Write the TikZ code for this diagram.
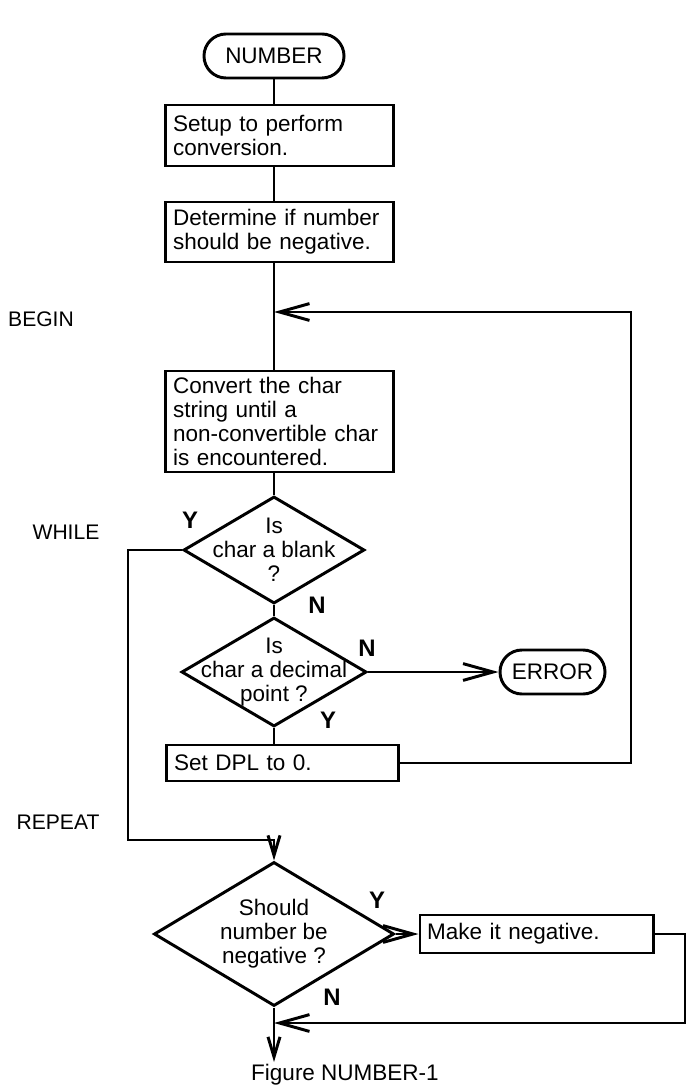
\documentclass[tikz,border=0pt]{standalone}
\usepackage{fontspec}
\setsansfont{Liberation Sans}
\usetikzlibrary{arrows.meta,shapes.geometric,shapes.misc}

\begin{document}
\begin{tikzpicture}[x=0.025cm,y=-0.025cm,line width=2.1pt,font=\sffamily\fontsize{16pt}{17pt}\selectfont,
term/.style={rounded rectangle,draw,minimum width=#1,minimum height=1.1cm,inner sep=0pt},
proc/.style={draw,align=left,text width=#1,inner xsep=0.18cm,inner ysep=0pt},proc/.default=5.315cm,
decision/.style={diamond,draw,align=center,inner sep=-2cm},
flow/.style={-{Straight Barb[length=0.75cm,width=0.42cm]}},
vflow/.style={-{Straight Barb[length=0.5cm,width=0.3cm]}},
yn/.style={font=\sffamily\bfseries\fontsize{17pt}{17pt}\selectfont},
lbl/.style={font=\sffamily\fontsize{15pt}{15pt}\selectfont}]
\useasboundingbox (0,0) rectangle (687,1089);
\node[term=3.5cm] (num) at (274,56) {NUMBER};
\node[proc,minimum height=1.525cm] (setup) at (279.5,135.5) {Setup to perform\\conversion.};
\node[proc,minimum height=1.5cm] (sign) at (279.5,232) {Determine if number\\should be negative.};
\node[proc,minimum height=2.525cm] (conv) at (279.5,421.5) {Convert the char\\string until a\\non-convertible char\\is encountered.};
\node[decision,minimum width=4.525cm,minimum height=2.675cm] (blank) at (274,550) {Is\\char a blank\\?};
\node[decision,minimum width=4.625cm,minimum height=2.725cm] (point) at (274,672) {Is\\char a decimal\\point ?};
\node[term=2.625cm] (err) at (552.5,672) {ERROR};
\node[proc=5.415cm,minimum height=0.9cm] (dpl) at (282.5,763) {Set DPL to 0.};
\node[decision,minimum width=6cm,minimum height=3.6cm] (neg) at (274,934) {Should\\number be\\negative ?};
\node[proc=5.465cm,minimum height=0.95cm] (mkneg) at (536.5,934) {Make it negative.};
% loop labels
\node[lbl] (lbegin) at (41,319) {BEGIN};
\node[lbl] (lwhile) at (66,532) {WHILE};
\node[lbl] (lrepeat) at (58,822) {REPEAT};
\node[yn] (y1) at (190,520) {Y};
\node[yn] (n1) at (317,605) {N};
\node[yn] (n2) at (367,648) {N};
\node[yn] (y2) at (328,720) {Y};
\node[yn] (y3) at (377,900) {Y};
\node[yn] (n3) at (332,997) {N};
\node (cap) at (345,1075) {Figure NUMBER-1};
\coordinate (loop) at (274,312);
\coordinate (rep) at (274,840);
\coordinate (join) at (274,1023);
\coordinate (out) at (274,1062);
% connectors
\draw (num.south) -- (num.south |- setup.north);
\draw (num.south |- setup.south) -- (num.south |- sign.north);
\draw (num.south |- sign.south) -- (num.south |- conv.north);
\draw (num.south |- conv.south) -- (blank.north);
\draw (blank.south) -- (point.north);
\draw (point.south) -- (point.south |- dpl.north);
\draw[flow] (point.east) -- (err.west);
\draw[flow] (dpl.east) -- (631,763) -- (631,312) -- (loop);
\draw[vflow] (blank.west) -- (128,550) -- (128,840) -- (rep) -- (neg.north);
\draw[flow] (neg.east) -- (mkneg.west);
\draw[flow] (mkneg.east) -- (685,934) -- (685,1023) -- (join);
\draw[vflow] (neg.south) -- (out);
\end{tikzpicture}
\end{document}
